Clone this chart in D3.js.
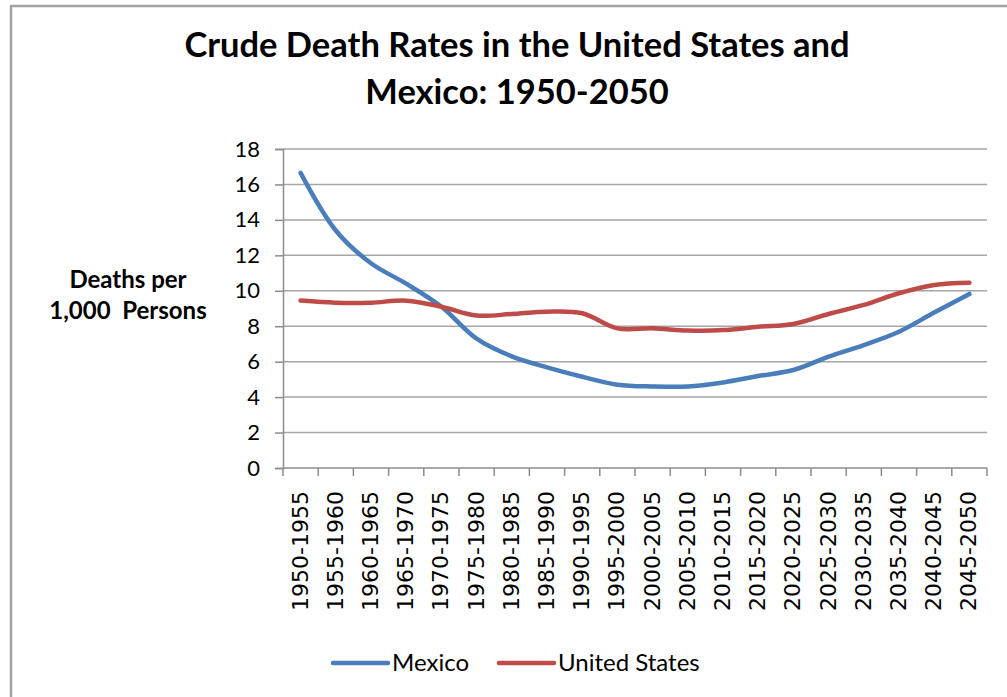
<!DOCTYPE html>
<html>
<head>
<meta charset="utf-8">
<script src="https://cdn.jsdelivr.net/npm/d3@7/dist/d3.min.js"></script>
<style>
  html, body { margin: 0; padding: 0; background: #fff; }
  svg { display: block; }
</style>
</head>
<body>
<div id="chart"></div>
<script>
var periods = [
  "1950-1955", "1955-1960", "1960-1965", "1965-1970", "1970-1975",
  "1975-1980", "1980-1985", "1985-1990", "1990-1995", "1995-2000",
  "2000-2005", "2005-2010", "2010-2015", "2015-2020", "2020-2025",
  "2025-2030", "2030-2035", "2035-2040", "2040-2045", "2045-2050"
];
var mexico = [16.65, 13.4, 11.55, 10.4, 9.1, 7.3, 6.3, 5.68, 5.15, 4.7,
  4.6, 4.6, 4.83, 5.19, 5.53, 6.28, 6.94, 7.69, 8.77, 9.82];
var unitedStates = [9.45, 9.33, 9.33, 9.44, 9.1, 8.6, 8.69, 8.82, 8.73, 7.88,
  7.88, 7.76, 7.78, 7.97, 8.13, 8.69, 9.2, 9.86, 10.33, 10.46];
var yTicks = [0, 2, 4, 6, 8, 10, 12, 14, 16, 18];
var titleLines = ["Crude Death Rates in the United States and", "Mexico: 1950-2050"];
var yLabelLines = ["Deaths per", "1,000  Persons"];

(function () {
  var width = 1007, height = 697;
  var plot = {left: 283, right: 987, top: 149, bottom: 468};
  var sansFont = "Lato, 'Open Sans', sans-serif";
  var gridColor = "#a6a6a6";
  var axisColor = "#8c8c8c";

  var series = [
    {name: "Mexico", values: mexico, color: "#4a7ebb"},
    {name: "United States", values: unitedStates, color: "#be4b48"}
  ];

  var svg = d3.select("#chart").append("svg")
    .attr("width", width)
    .attr("height", height);

  // chart frame (only left and top edges fall inside the picture)
  svg.append("path")
    .attr("d", "M11,710 L11,6 L1020,6")
    .attr("fill", "none")
    .attr("stroke", "#a3a3a3")
    .attr("stroke-width", 2.5);

  svg.append("g")
    .selectAll("text")
    .data(titleLines)
    .join("text")
    .attr("x", 517)
    .attr("y", function (d, i) { return 57 + i * 47; })
    .attr("text-anchor", "middle")
    .attr("font-family", sansFont)
    .attr("font-weight", 700)
    .attr("font-size", 34.5)
    .attr("fill", "#000")
    .text(function (d) { return d; });

  var x = d3.scaleBand().domain(periods).range([plot.left, plot.right]);
  var y = d3.scaleLinear().domain([0, 18]).range([plot.bottom, plot.top]);

  // horizontal gridlines
  svg.append("g")
    .selectAll("line")
    .data(yTicks.filter(function (t) { return t > 0; }))
    .join("line")
    .attr("x1", plot.left)
    .attr("x2", plot.right)
    .attr("y1", function (d) { return y(d); })
    .attr("y2", function (d) { return y(d); })
    .attr("stroke", gridColor)
    .attr("stroke-width", 1.5);

  var yAxis = svg.append("g")
    .attr("transform", "translate(" + plot.left + ",0)")
    .call(d3.axisLeft(y).tickValues(yTicks).tickSize(8).tickPadding(15));
  yAxis.select(".domain").attr("stroke", axisColor).attr("stroke-width", 1.5);
  yAxis.selectAll(".tick line").attr("stroke", axisColor).attr("stroke-width", 1.5);
  yAxis.selectAll(".tick text")
    .attr("font-family", sansFont)
    .attr("font-size", 22)
    .attr("fill", "#000");

  // x axis: ticks sit between categories
  svg.append("line")
    .attr("x1", plot.left).attr("x2", plot.right)
    .attr("y1", plot.bottom).attr("y2", plot.bottom)
    .attr("stroke", axisColor).attr("stroke-width", 1.5);

  var bounds = periods.map(function (p) { return x(p); }).concat([plot.right]);
  svg.append("g")
    .selectAll("line")
    .data(bounds)
    .join("line")
    .attr("x1", function (d) { return d; })
    .attr("x2", function (d) { return d; })
    .attr("y1", plot.bottom)
    .attr("y2", plot.bottom + 8)
    .attr("stroke", axisColor)
    .attr("stroke-width", 1.5);

  svg.append("g")
    .selectAll("text")
    .data(periods)
    .join("text")
    .attr("transform", function (d) {
      return "translate(" + (x(d) + x.bandwidth() / 2 + 7) + "," + (plot.bottom + 23) + ") rotate(-90)";
    })
    .attr("text-anchor", "end")
    .attr("font-family", "'DejaVu Sans', Verdana, sans-serif")
    .attr("font-size", 22)
    .attr("fill", "#000")
    .text(function (d) { return d; });

  // y axis title
  svg.append("g")
    .selectAll("text")
    .data(yLabelLines)
    .join("text")
    .attr("x", 128)
    .attr("y", function (d, i) { return 288 + i * 31; })
    .attr("text-anchor", "middle")
    .attr("font-family", sansFont)
    .attr("font-weight", 700)
    .attr("font-size", 24)
    .attr("fill", "#000")
    .attr("xml:space", "preserve")
    .style("white-space", "pre")
    .text(function (d) { return d; });

  var line = d3.line()
    .x(function (d, i) { return x(periods[i]) + x.bandwidth() / 2; })
    .y(function (d) { return y(d); })
    .curve(d3.curveCatmullRom.alpha(0.5));

  svg.append("g")
    .selectAll("path")
    .data(series)
    .join("path")
    .attr("d", function (s) { return line(s.values); })
    .attr("fill", "none")
    .attr("stroke", function (s) { return s.color; })
    .attr("stroke-width", 4.5)
    .attr("stroke-linecap", "round")
    .attr("stroke-linejoin", "round");

  // legend
  var legendX = [333, 499];
  var legend = svg.append("g")
    .selectAll("g")
    .data(series)
    .join("g")
    .attr("transform", function (s, i) { return "translate(" + legendX[i] + ",663)"; });

  legend.append("line")
    .attr("x1", 0).attr("x2", 55)
    .attr("y1", 0).attr("y2", 0)
    .attr("stroke", function (s) { return s.color; })
    .attr("stroke-width", 4.5)
    .attr("stroke-linecap", "round");

  legend.append("text")
    .attr("x", 59)
    .attr("y", 8)
    .attr("font-family", sansFont)
    .attr("font-size", 24)
    .attr("fill", "#000")
    .text(function (s) { return s.name; });
}());
</script>
</body>
</html>
